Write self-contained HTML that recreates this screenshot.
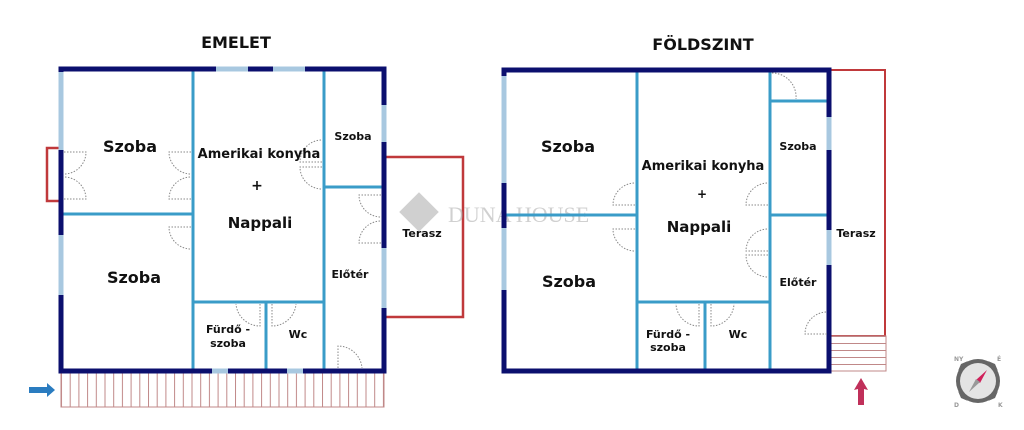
<!DOCTYPE html>
<html><head><meta charset="utf-8"><style>
html,body{margin:0;padding:0;background:#fff;}
svg{display:block;}
text{font-family:"DejaVu Sans","Liberation Sans",sans-serif;font-weight:bold;fill:#111;}
</style></head><body>
<svg width="1024" height="430" viewBox="0 0 1024 430" xmlns="http://www.w3.org/2000/svg">
<defs>
<pattern id="vl" x="61" y="0" width="8.7" height="10" patternUnits="userSpaceOnUse"><line x1="0.5" y1="0" x2="0.5" y2="10" stroke="#c08888" stroke-width="1"/></pattern>
<pattern id="hl" x="0" y="336" width="10" height="7" patternUnits="userSpaceOnUse"><line x1="0" y1="0.5" x2="10" y2="0.5" stroke="#c08888" stroke-width="1"/></pattern>
</defs>
<text x="236" y="48" font-size="16" text-anchor="middle">EMELET</text>
<text x="703" y="50" font-size="16" text-anchor="middle">FÖLDSZINT</text>

<!-- LEFT PLAN -->
<rect x="47" y="148" width="14" height="53" fill="none" stroke="#c0393b" stroke-width="2.5"/>
<polyline points="384,157 463,157 463,317 384,317" fill="none" stroke="#c0393b" stroke-width="2.5"/>
<rect x="61" y="373" width="323" height="34" fill="url(#vl)" stroke="#c08888" stroke-width="1"/>
<g stroke="#3a9cc8" stroke-width="3" fill="none">
<line x1="193" y1="69" x2="193" y2="371"/>
<line x1="61" y1="214" x2="193" y2="214"/>
<line x1="324" y1="69" x2="324" y2="371"/>
<line x1="324" y1="187" x2="384" y2="187"/>
<line x1="193" y1="302" x2="324" y2="302"/>
<line x1="266" y1="302" x2="266" y2="371"/>
</g>
<g stroke="#0b0f6e" stroke-width="5" fill="none">
<line x1="58.5" y1="69" x2="386.5" y2="69"/>
<line x1="58.5" y1="371" x2="386.5" y2="371"/>
<line x1="61" y1="69" x2="61" y2="371"/>
<line x1="384" y1="69" x2="384" y2="371"/>
</g>
<g stroke="#a8c8e0" stroke-width="5">
<line x1="216" y1="69" x2="248" y2="69"/><line x1="273" y1="69" x2="305" y2="69"/>
<line x1="61" y1="72" x2="61" y2="150"/><line x1="61" y1="235" x2="61" y2="295"/>
<line x1="384" y1="105" x2="384" y2="142"/><line x1="384" y1="248" x2="384" y2="308"/>
<line x1="212" y1="371" x2="228" y2="371"/><line x1="287" y1="371" x2="303" y2="371"/>
</g>
<g stroke="#888" stroke-width="1" stroke-dasharray="1.5 1.5" fill="none">
<path d="M64 152 L86 152 A22 22 0 0 1 64 174"/><path d="M64 199 L86 199 A22 22 0 0 0 64 177"/>
<path d="M191 152 L169 152 A22 22 0 0 0 191 174"/><path d="M191 199 L169 199 A22 22 0 0 1 191 177"/>
<path d="M191 227 L169 227 A22 22 0 0 0 191 249"/>
<path d="M322 162 L300 162 A22 22 0 0 1 322 140"/><path d="M322 167 L300 167 A22 22 0 0 0 322 189"/>
<path d="M381 195 L359 195 A22 22 0 0 0 381 217"/><path d="M381 243 L359 243 A22 22 0 0 1 381 221"/>
<path d="M260 304 L260 326 A24 24 0 0 1 236 304"/><path d="M272 304 L272 326 A24 24 0 0 0 296 304"/>
<path d="M338 368 L338 346 A24 24 0 0 1 362 368"/>
</g>
<text x="130" y="152" font-size="16" text-anchor="middle">Szoba</text>
<text x="134" y="283" font-size="16" text-anchor="middle">Szoba</text>
<text x="259" y="158" font-size="13" text-anchor="middle">Amerikai konyha</text>
<text x="257" y="190" font-size="14" text-anchor="middle">+</text>
<text x="260" y="228" font-size="15" text-anchor="middle">Nappali</text>
<text x="353" y="140" font-size="11" text-anchor="middle">Szoba</text>
<text x="350" y="278" font-size="11" text-anchor="middle">Előtér</text>
<text x="422" y="237" font-size="11" text-anchor="middle">Terasz</text>
<text x="228" y="333" font-size="11" text-anchor="middle">Fürdő -</text>
<text x="228" y="347" font-size="11" text-anchor="middle">szoba</text>
<text x="298" y="338" font-size="11" text-anchor="middle">Wc</text>
<path d="M29 387 L47 387 L47 383 L55 390 L47 397 L47 393 L29 393 Z" fill="#2a7cc0"/>

<!-- watermark -->
<g opacity="0.45">
<rect x="405" y="198" width="28" height="28" transform="rotate(45 419 212)" fill="#999"/>
<text x="448" y="222" font-size="22" style="font-family:'Liberation Serif',serif;font-weight:normal;fill:#999">DUNA HOUSE</text>
</g>

<!-- RIGHT PLAN -->
<rect x="830" y="70" width="55" height="266" fill="none" stroke="#c0393b" stroke-width="2"/>
<rect x="830" y="336" width="56" height="35" fill="url(#hl)" stroke="#c08888" stroke-width="1"/>
<g stroke="#3a9cc8" stroke-width="3" fill="none">
<line x1="637" y1="70" x2="637" y2="371"/>
<line x1="504" y1="215" x2="637" y2="215"/>
<line x1="770" y1="70" x2="770" y2="371"/>
<line x1="770" y1="101" x2="829" y2="101"/>
<line x1="770" y1="215" x2="829" y2="215"/>
<line x1="637" y1="302" x2="770" y2="302"/>
<line x1="705" y1="302" x2="705" y2="371"/>
</g>
<g stroke="#0b0f6e" stroke-width="5" fill="none">
<line x1="501.5" y1="70" x2="831.5" y2="70"/>
<line x1="501.5" y1="371" x2="831.5" y2="371"/>
<line x1="504" y1="70" x2="504" y2="371"/>
<line x1="829" y1="70" x2="829" y2="371"/>
</g>
<g stroke="#a8c8e0" stroke-width="5">
<line x1="504" y1="76" x2="504" y2="183"/><line x1="504" y1="228" x2="504" y2="290"/>
<line x1="829" y1="117" x2="829" y2="150"/><line x1="829" y1="230" x2="829" y2="265"/>
</g>
<g stroke="#888" stroke-width="1" stroke-dasharray="1.5 1.5" fill="none">
<path d="M772 73 A24 24 0 0 1 796 99"/>
<path d="M635 205 L613 205 A22 22 0 0 1 635 183"/><path d="M635 229 L613 229 A22 22 0 0 0 635 251"/>
<path d="M768 205 L746 205 A22 22 0 0 1 768 183"/><path d="M768 251 L746 251 A22 22 0 0 1 768 229"/><path d="M768 255 L746 255 A22 22 0 0 0 768 277"/>
<path d="M699 304 L699 326 A23 23 0 0 1 676 304"/><path d="M711 304 L711 326 A23 23 0 0 0 734 304"/>
<path d="M827 334 L805 334 A22 22 0 0 1 827 312"/>
</g>
<text x="568" y="152" font-size="16" text-anchor="middle">Szoba</text>
<text x="569" y="287" font-size="16" text-anchor="middle">Szoba</text>
<text x="703" y="170" font-size="13" text-anchor="middle">Amerikai konyha</text>
<text x="702" y="198" font-size="12" text-anchor="middle">+</text>
<text x="699" y="232" font-size="15" text-anchor="middle">Nappali</text>
<text x="798" y="150" font-size="11" text-anchor="middle">Szoba</text>
<text x="798" y="286" font-size="11" text-anchor="middle">Előtér</text>
<text x="856" y="237" font-size="11" text-anchor="middle">Terasz</text>
<text x="668" y="338" font-size="11" text-anchor="middle">Fürdő -</text>
<text x="668" y="351" font-size="11" text-anchor="middle">szoba</text>
<text x="738" y="338" font-size="11" text-anchor="middle">Wc</text>
<path d="M861 378 L868 390 L864 389 L864 405 L858 405 L858 389 L854 390 Z" fill="#c0305a"/>

<!-- compass -->
<g transform="translate(978,381)">
<circle r="22" fill="#666"/>
<circle r="18" fill="#e4e4e4"/>
<path d="M-17 -17 L-10 -20 L-20 -10Z M17 -17 L10 -20 L20 -10Z M-17 17 L-10 20 L-20 10Z M17 17 L10 20 L20 10Z" fill="#666"/>
<path d="M9 -11 L2 2 L-2 -1 Z" fill="#d0205a"/>
<path d="M-9 11 L-2 -2 L2 1 Z" fill="#999"/>
<text x="-24" y="-20" font-size="6" style="fill:#999">NY</text>
<text x="19" y="-20" font-size="6" style="fill:#999">É</text>
<text x="-24" y="26" font-size="6" style="fill:#999">D</text>
<text x="20" y="26" font-size="6" style="fill:#999">K</text>
</g>
</svg>
</body></html>
